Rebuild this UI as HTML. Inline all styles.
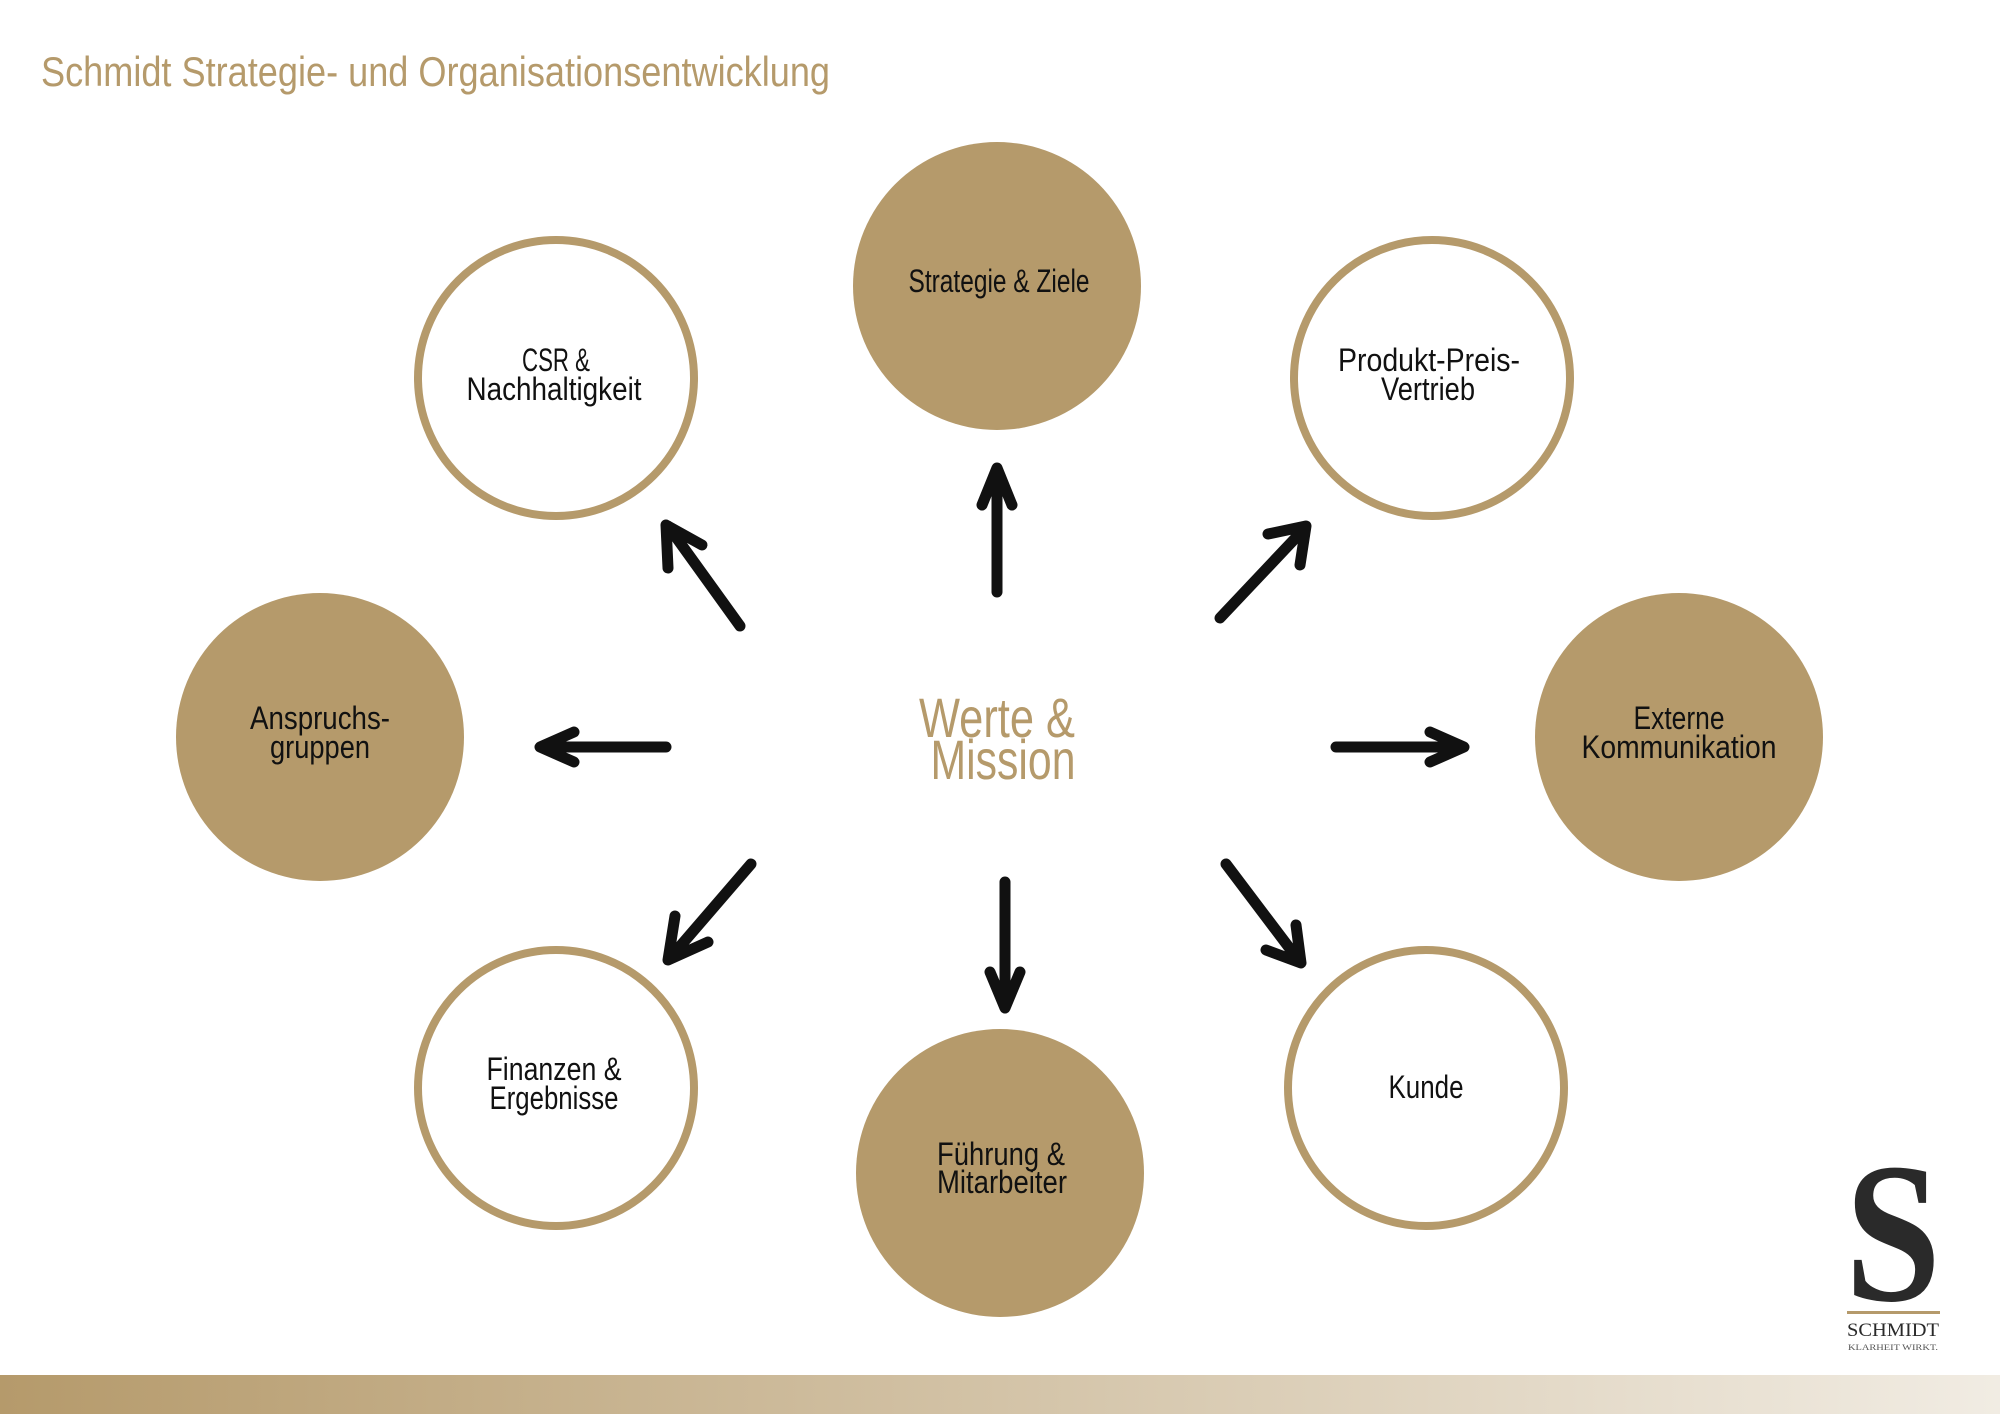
<!DOCTYPE html>
<html><head><meta charset="utf-8"><style>
html,body{margin:0;padding:0;background:#fff}
svg{display:block}
text{font-family:"Liberation Sans",sans-serif}
</style></head><body>
<svg width="2000" height="1414" viewBox="0 0 2000 1414" xmlns="http://www.w3.org/2000/svg">
<defs>
<linearGradient id="g" x1="0" x2="1" y1="0" y2="0">
<stop offset="0" stop-color="#b59a6b"/><stop offset="1" stop-color="#f1ece3"/>
</linearGradient>
</defs>
<rect width="2000" height="1414" fill="#fff"/>
<text x="41" y="86" font-size="42" fill="#b59a6b" textLength="789" lengthAdjust="spacingAndGlyphs">Schmidt Strategie- und Organisationsentwicklung</text>

<g fill="#b59a6b">
<circle cx="997" cy="286" r="144"/>
<circle cx="320" cy="737" r="144"/>
<circle cx="1679" cy="737" r="144"/>
<circle cx="1000" cy="1173" r="144"/>
</g>
<g fill="none" stroke="#b59a6b" stroke-width="8">
<circle cx="556" cy="378" r="138"/>
<circle cx="1432" cy="378" r="138"/>
<circle cx="556" cy="1088" r="138"/>
<circle cx="1426" cy="1088" r="138"/>
</g>

<g font-size="32" fill="#111" text-anchor="middle">
<text x="999" y="292" textLength="181" lengthAdjust="spacingAndGlyphs">Strategie &amp; Ziele</text>
<text x="556" y="371" textLength="68" lengthAdjust="spacingAndGlyphs">CSR &amp;</text>
<text x="554" y="400" textLength="175" lengthAdjust="spacingAndGlyphs">Nachhaltigkeit</text>
<text x="1429" y="371" textLength="182" lengthAdjust="spacingAndGlyphs">Produkt-Preis-</text>
<text x="1428" y="400" textLength="94" lengthAdjust="spacingAndGlyphs">Vertrieb</text>
<text x="320" y="729" textLength="140" lengthAdjust="spacingAndGlyphs">Anspruchs-</text>
<text x="320" y="758" textLength="100" lengthAdjust="spacingAndGlyphs">gruppen</text>
<text x="1679" y="729" textLength="91" lengthAdjust="spacingAndGlyphs">Externe</text>
<text x="1679" y="758" textLength="195" lengthAdjust="spacingAndGlyphs">Kommunikation</text>
<text x="554" y="1080" textLength="135" lengthAdjust="spacingAndGlyphs">Finanzen &amp;</text>
<text x="554" y="1109" textLength="129" lengthAdjust="spacingAndGlyphs">Ergebnisse</text>
<text x="1001" y="1165" textLength="128" lengthAdjust="spacingAndGlyphs">Führung &amp;</text>
<text x="1002" y="1193" textLength="130" lengthAdjust="spacingAndGlyphs">Mitarbeiter</text>
<text x="1426" y="1098" textLength="75" lengthAdjust="spacingAndGlyphs">Kunde</text>
</g>

<g font-size="56" fill="#b59a6b" text-anchor="middle">
<text x="997" y="737" textLength="156" lengthAdjust="spacingAndGlyphs">Werte &amp;</text>
<text x="1003" y="779" textLength="145" lengthAdjust="spacingAndGlyphs">Mission</text>
</g>

<g fill="none" stroke="#111" stroke-width="11" stroke-linecap="round" stroke-linejoin="round">
<path d="M997 592 L997 470 M982 505 L997 468 L1012 505"/>
<path d="M740 626 L668 526 M668 568 L666 525 L702 545"/>
<path d="M1220 618 L1305 528 M1268 534 L1306 526 L1300 565"/>
<path d="M666 747 L542 747 M574 732 L540 747 L574 762"/>
<path d="M1336 747 L1462 747 M1430 732 L1464 747 L1430 762"/>
<path d="M751 864 L670 958 M675 916 L668 960 L708 942"/>
<path d="M1005 882 L1005 1006 M990 972 L1005 1008 L1020 972"/>
<path d="M1226 864 L1300 962 M1266 950 L1301 963 L1296 925"/>
</g>

<text x="1893" y="1300" style="font-family:'Liberation Serif',serif;font-weight:bold" font-size="200" fill="#2a2a2a" text-anchor="middle" textLength="96" lengthAdjust="spacingAndGlyphs">S</text>
<rect x="1847" y="1311" width="93" height="3" fill="#b59a6b"/>
<text x="1893" y="1336" style="font-family:'Liberation Serif',serif" font-size="19" fill="#2a2a2a" text-anchor="middle" textLength="92" lengthAdjust="spacingAndGlyphs">SCHMIDT</text>
<text x="1893" y="1350" style="font-family:'Liberation Serif',serif" font-size="8" fill="#555" text-anchor="middle" textLength="90" lengthAdjust="spacingAndGlyphs">KLARHEIT WIRKT.</text>

<rect x="0" y="1375" width="2000" height="39" fill="url(#g)"/>
</svg>
</body></html>
